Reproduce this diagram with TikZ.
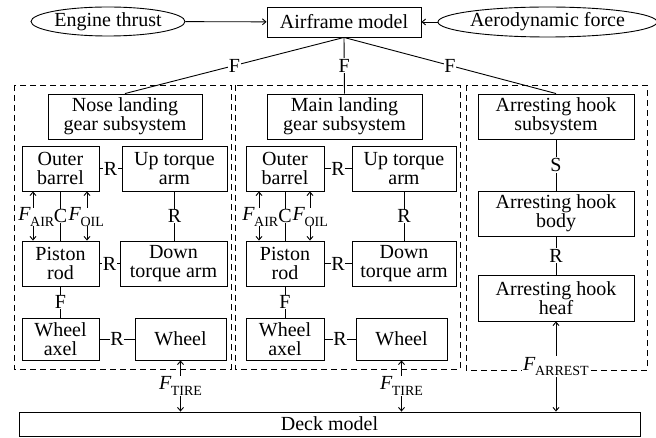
\documentclass[tikz,border=0pt]{standalone}
\usepackage{fontspec}
\setmainfont{Liberation Serif}
\usetikzlibrary{arrows.meta,shapes.geometric}
\newcommand{\Fsub}[1]{\textit{F}\kern-0.5pt\raisebox{-0.28em}{\fontsize{14}{14}\selectfont #1}}
\begin{document}
\begin{tikzpicture}[x=1pt,y=-1pt,
  every node/.style={font=\fontsize{20}{19}\selectfont},
  blk/.style={draw, line width=0.9pt, inner sep=0pt, align=center},
  ell/.style={draw, ellipse, line width=0.9pt, inner sep=0pt},
  lbl/.style={fill=white, inner sep=0.8pt},
  conn/.style={line width=0.9pt},
  grp/.style={draw, dashed, line width=0.9pt, dash pattern=on 6pt off 4pt},
  >={Straight Barb[length=3.5pt,width=6pt]}
]
\useasboundingbox (0,0) rectangle (656,438);
% top row
\node[ell, minimum width=154, minimum height=29] (eng) at (108,21.5) {Engine thrust};
\node[blk, minimum width=154, minimum height=30] (air) at (344,22) {Airframe model};
\node[ell, minimum width=201, minimum height=30] (aero) at (547.5,22) {Aerodynamic force};
\draw[conn,->] (eng) -- (air);
\draw[conn,->] (aero) -- (air);
% dashed groups
\draw[grp] (14,85) rectangle (231,369);
\draw[grp] (235,85) rectangle (460,369);
\draw[grp] (466,85) rectangle (647,370);
% left panel
\node[blk, minimum width=154, minimum height=45] (nose) at (125,116.5) {Nose landing\\gear subsystem};
\node[blk, minimum width=77, minimum height=45] (ob1) at (60.5,168.5) {Outer\\barrel};
\node[blk, minimum width=105, minimum height=45] (ut1) at (174.5,168.5) {Up torque\\arm};
\node[blk, minimum width=77, minimum height=45] (pr1) at (60.5,263.5) {Piston\\rod};
\node[blk, minimum width=107, minimum height=45] (dt1) at (173.5,263.5) {Down\\torque arm};
\node[blk, minimum width=77, minimum height=42] (wa1) at (60.5,339) {Wheel\\axel};
\node[blk, minimum width=91, minimum height=42] (wh1) at (180.5,339) {Wheel};
% middle panel
\node[blk, minimum width=155, minimum height=45] (main) at (344.5,116.5) {Main landing\\gear subsystem};
\node[blk, minimum width=78, minimum height=45] (ob2) at (285,168.5) {Outer\\barrel};
\node[blk, minimum width=104, minimum height=45] (ut2) at (404,168.5) {Up torque\\arm};
\node[blk, minimum width=78, minimum height=45] (pr2) at (285,263.5) {Piston\\rod};
\node[blk, minimum width=104, minimum height=45] (dt2) at (404,263.5) {Down\\torque arm};
\node[blk, minimum width=78, minimum height=42] (wa2) at (285,339) {Wheel\\axel};
\node[blk, minimum width=91, minimum height=42] (wh2) at (401.5,339) {Wheel};
% right panel
\node[blk, minimum width=156, minimum height=45] (ahs) at (556,116.5) {Arresting hook\\subsystem};
\node[blk, minimum width=156, minimum height=45] (ahb) at (556,213.5) {Arresting hook\\body};
\node[blk, minimum width=156, minimum height=46] (ahh) at (556,298) {Arresting hook\\heaf};
% deck
\node[blk, minimum width=621, minimum height=24] (deck) at (329.5,424) {Deck model};
% airframe to subsystems
\draw[conn] (air.south) -- node[lbl]{F} (nose.north);
\draw[conn] (air.south) -- node[lbl]{F} (main.north);
\draw[conn] (air.south) -- node[lbl]{F} (ahs.north);
% left panel connectors
\draw[conn] (ob1) -- node[lbl]{R} (ut1);
\draw[conn] (ut1.south) -- node[lbl]{R} (ut1.south|-dt1.north);
\draw[conn] (pr1) -- node[lbl]{R} (dt1);
\draw[conn] (pr1) -- node[lbl]{F} (wa1);
\draw[conn] (wa1) -- node[lbl]{R} (wh1);
\draw[conn,<->] ([xshift=-27.5pt]ob1.south) -- ([xshift=-27.5pt]pr1.north);
\draw[conn,<->] ([xshift=26.5pt]ob1.south) -- ([xshift=26.5pt]pr1.north);
\draw[conn] (ob1) -- node[lbl, inner sep=0pt]{C} (pr1);
\node[lbl, inner sep=0pt, anchor=east] at (54.5,217) {\Fsub{AIR}};
\node[lbl, inner sep=0pt, anchor=west] at (68.5,217) {\Fsub{OIL}};
\draw[conn,<->] (wh1.south) -- node[lbl]{\Fsub{TIRE}} (wh1.south|-deck.north);
% middle panel connectors
\draw[conn] (ob2) -- node[lbl]{R} (ut2);
\draw[conn] (ut2) -- node[lbl]{R} (dt2);
\draw[conn] (pr2) -- node[lbl]{R} (dt2);
\draw[conn] (pr2) -- node[lbl]{F} (wa2);
\draw[conn] (wa2) -- node[lbl]{R} (wh2);
\draw[conn,<->] ([xshift=-26pt]ob2.south) -- ([xshift=-26pt]pr2.north);
\draw[conn,<->] ([xshift=25pt]ob2.south) -- ([xshift=25pt]pr2.north);
\draw[conn] (ob2) -- node[lbl, inner sep=0pt]{C} (pr2);
\node[lbl, inner sep=0pt, anchor=east] at (278.5,217) {\Fsub{AIR}};
\node[lbl, inner sep=0pt, anchor=west] at (292.5,217) {\Fsub{OIL}};
\draw[conn,<->] (wh2.south) -- node[lbl]{\Fsub{TIRE}} (wh2.south|-deck.north);
% right panel connectors
\draw[conn] (ahs) -- node[lbl]{S} (ahb);
\draw[conn] (ahb) -- node[lbl]{R} (ahh);
\draw[conn,<->] (ahh.south) -- node[lbl]{\Fsub{ARREST}} (ahh.south|-deck.north);
\end{tikzpicture}
\end{document}
